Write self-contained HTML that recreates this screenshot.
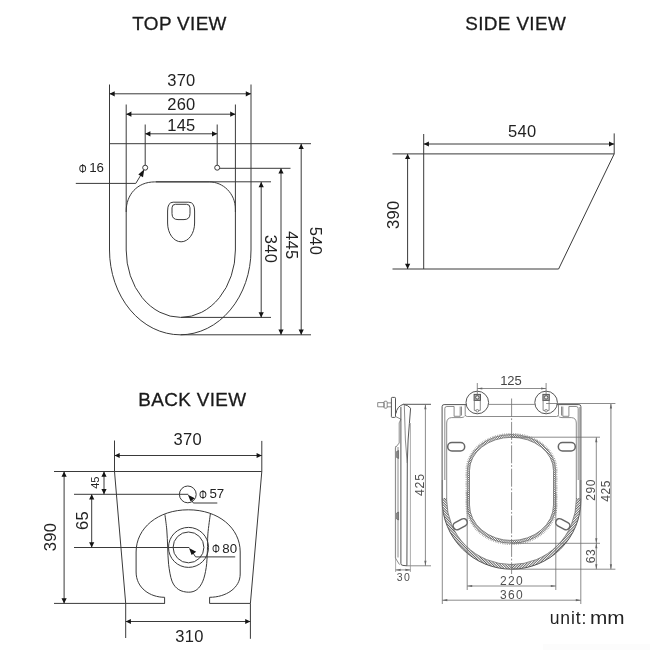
<!DOCTYPE html>
<html><head><meta charset="utf-8">
<style>
html,body{margin:0;padding:0;background:#fff;}
svg{display:block;will-change:transform;}
text{font-family:"Liberation Sans",sans-serif;fill:#222;}
.l{stroke:#3a3a3a;stroke-width:1;fill:none;}
.g{stroke:#6e6e6e;stroke-width:0.8;fill:none;}
.gd{stroke:#555;stroke-width:1;fill:none;}
.gl{stroke:#8a8a8a;stroke-width:0.7;fill:none;}
.a{fill:#151515;stroke:none;}
.ga{fill:#666;stroke:none;}
.t{font-size:18.9px;letter-spacing:0.35px;stroke:#1a1a1a;stroke-width:0.3px;fill:#1a1a1a;}
.d{font-size:16.5px;text-anchor:middle;letter-spacing:0.3px;}
.s{font-size:13.3px;}
.p{font-size:12.4px;}
.q{font-size:12px;letter-spacing:0.6px;text-anchor:middle;fill:#505050;}
</style></head><body>
<svg width="650" height="650" viewBox="0 0 650 650">
<rect width="650" height="650" fill="#fff"/>
<text class="t" x="132.3" y="30.3">TOP VIEW</text>
<text class="t" x="465.3" y="30.3">SIDE VIEW</text>
<text class="t" x="138.3" y="405.9">BACK VIEW</text>

<g id="top">
<path class="l" d="M109.5 84.5V250A70.75 84.8 0 0 0 251 250V84.5"/>
<path class="l" d="M126.2 104.5V212M235.4 104.5V212"/>
<path class="l" d="M145.2 124.5V165.2M217.2 124.5V165.2"/>
<path class="l" d="M109.5 93.8H251M126.2 114.2H235.4M145.2 133.8H217.2"/>
<path class="l" d="M109.5 143.7H311M219.7 168.3H290.5M156 181.8H271M181 317.4H271M180.5 334.8H311"/>
<circle class="l" cx="145.2" cy="167.7" r="2.5"/><circle class="l" cx="217.2" cy="167.7" r="2.5"/>
<path class="l" d="M75.8 183.4H135.8L141.5 174"/>
<path class="l" d="M126.2 250V211C126.2 195 137 181.9 154.7 181.9H209.4C223 181.9 235.4 193.5 235.4 209V250A54.6 67.4 0 0 1 126.2 250Z"/>
<path class="l" d="M173.2 202.2H188.8Q194.6 202.2 194.6 211V223C194.6 233.400 188.600 241.800 181.100 241.800C173.600 241.800 167.600 233.400 167.600 223V211Q167.600 202.200 173.200 202.200Z"/>
<path class="l" d="M175.500 204.300H186.500Q190 204.300 190 207.800V213.600Q190 219.600 184 219.600H178Q172 219.600 172 213.600V207.800Q172 204.300 175.500 204.300Z"/>
<path class="l" d="M261.2 182V317.4M281 168.3V334.8M301.2 143.7V334.8"/>
<path class="a" d="M109.5 93.8l5.2 -2.6v5.2zM251 93.8l-5.2 -2.6v5.2zM126.2 114.2l5.2 -2.6v5.2zM235.4 114.2l-5.2 -2.6v5.2zM145.2 133.8l5.2 -2.6v5.2zM217.2 133.8l-5.2 -2.6v5.2zM261.2 182l-2.6 5.2h5.2zM261.2 317.4l-2.6 -5.2h5.2zM281 168.3l-2.6 5.2h5.2zM281 334.8l-2.6 -5.2h5.2zM301.2 143.7l-2.6 5.2h5.2zM301.2 334.8l-2.6 -5.2h5.2z"/>
<path class="a" d="M144.300 169.300L143 177.200L138.300 174.500z"/>
<text class="d" x="181.4" y="86">370</text>
<text class="d" x="181.400" y="110">260</text>
<text class="d" x="181.400" y="130.6">145</text>
<text class="p" transform="translate(78.8 172.6) scale(0.8 1)">Φ</text><text class="s" x="89.2" y="172.2">16</text>
<text class="d" transform="translate(264.7 249) rotate(90)">340</text>
<text class="d" transform="translate(285.900 245.300) rotate(90)">445</text>
<text class="d" transform="translate(310.100 241) rotate(90)">540</text>
</g>
<g id="side">
<path class="l" d="M423.700 134V269M614.200 133.400V153.900L558.600 269H392.500M392.500 153.900H614.200M423.700 144H614.200M407.600 153.900V269"/>
<path class="a" d="M423.7 144l5.2 -2.6v5.2zM614.2 144l-5.2 -2.6v5.2zM407.6 153.9l-2.6 5.2h5.2zM407.6 269l-2.6 -5.2h5.2z"/>
<text class="d" x="522.2" y="137">540</text>
<text class="d" transform="translate(399 214.700) rotate(-90)">390</text>
</g>
<g id="back">
<path class="l" d="M114.500 440.500V471.500L125.700 603.400V638M261.800 440.900V471.500L250.400 603.400V638.800"/>
<path class="l" d="M54 471.500H261.800M74 494.300H188.300M74 547.500H189.300M54 603.400H164.900M209.500 603.400H250.400"/>
<path class="l" d="M114.500 455.500H261.800M125.700 621.500H250.400"/>
<path class="l" d="M64.100 471.500V603.400M104 471.500V494.300M91.700 494.300V547.500"/>
<path class="a" d="M114.5 455.5l5.2 -2.6v5.2zM261.8 455.5l-5.2 -2.6v5.2zM125.7 621.5l5.2 -2.6v5.2zM250.4 621.5l-5.2 -2.6v5.2zM64.1 471.5l-2.6 5.2h5.2zM64.1 603.4l-2.6 -5.2h5.2zM104 471.5l-2.6 5.2h5.2zM104 494.3l-2.6 -5.2h5.2zM91.7 494.3l-2.6 5.2h5.2zM91.7 547.5l-2.6 -5.2h5.2z"/>
<circle class="l" cx="187.800" cy="494.400" r="8.400"/>
<circle class="l" cx="188.500" cy="547.400" r="20"/>
<circle class="l" cx="188.500" cy="547.400" r="15.400"/>
<path class="l" d="M164.600 603.400V597.300C150 597.300 136.100 588 136.100 572V552C136.100 528 158 509.800 188.300 509.800C218.500 509.800 240.200 528 240.200 552V574C240.200 588 226 597.300 209.600 597.300V603.400"/>
<path class="l" d="M164.9 514.4C165.22 517 166.33 524.52 166.8 530C167.27 535.48 167.4 541.58 167.7 547.3C168 553.02 167.88 558.65 168.6 564.3C169.32 569.95 170.32 576.98 172 581.2C173.68 585.42 175.92 587.77 178.7 589.6C181.48 591.43 185.67 592.2 188.7 592.2C191.73 592.2 194.55 591.43 196.9 589.6C199.25 587.77 201.25 584.87 202.8 581.2C204.35 577.53 205.43 572.68 206.2 567.6C206.97 562.52 207.12 556.33 207.4 550.7C207.68 545.07 207.4 540 207.9 533.8C208.4 527.6 209.98 516.88 210.4 513.5"/>
<path class="l" d="M190 497L193.300 503H217.300M191 550L195.600 556.900H235.200"/>
<path class="a" d="M187.900 494.700l7 3.600l-4.400 3zM189 548l7.200 3.800l-4.600 3.200z"/>
<text class="d" x="187.700" y="445">370</text>
<text class="d" x="189.500" y="642">310</text>
<text class="p" transform="translate(199.1 498.8) scale(0.8 1)">Φ</text><text class="s" x="209.400" y="498.300">57</text>
<text class="p" transform="translate(212 553.3) scale(0.8 1)">Φ</text><text class="s" x="222.300" y="552.800">80</text>
<text class="d" transform="translate(55.500 537) rotate(-90)">390</text>
<text class="d" transform="translate(87.800 520.500) rotate(-90)">65</text>
<text transform="translate(98.600 482.700) rotate(-90)" style="font-size:11px;text-anchor:middle">45</text>
</g>
<g id="seat">
<path class="gd" d="M466.2 404.600H444.100Q442.100 404.600 442.100 406.600V500A69.4 69.2 0 0 0 580.900 500V406.600Q580.900 404.600 578.900 404.600H556.800"/>
<path class="g" d="M446.700 470V500A64.8 64.6 0 0 0 576.300 500V470"/>
<defs><pattern id="h" width="1.8" height="1.8" patternUnits="userSpaceOnUse" patternTransform="rotate(45)"><rect width="1.8" height="0.85" fill="#5a5a5a"/></pattern><pattern id="h2" width="1.5" height="1.5" patternUnits="userSpaceOnUse" patternTransform="rotate(45)"><rect width="1.5" height="0.7" fill="#666"/></pattern></defs>
<defs><pattern id="hr" width="1.8" height="1.8" patternUnits="userSpaceOnUse" patternTransform="rotate(-45)"><rect width="1.8" height="0.85" fill="#5a5a5a"/></pattern></defs>
<path fill="url(#h)" d="M442.1 498V500A69.4 69.2 0 0 0 511.5 569.2V564.6A64.8 64.6 0 0 1 446.7 500V498Z"/>
<path fill="url(#hr)" d="M580.9 498V500A69.4 69.2 0 0 1 511.5 569.2V564.6A64.8 64.6 0 0 0 576.3 500V498Z"/>
<path class="gl" d="M579.600 407V500"/>
<path class="g" d="M444.800 480V408.500Q444.800 406.500 446.800 406.500H454.100V416.300H460.200V406.500M461.500 406.500V415.500M465.200 404.600V414.500Q465.200 416.500 467.200 416.500H556.500Q558.500 416.500 558.500 414.500V404.600"/>
<path class="g" d="M446.700 470V423Q446.700 418 451.500 417.600H461Q464 417.600 464.600 416"/>
<path class="g" d="M578.200 480V408.500Q578.200 406.500 576.200 406.500H568.900V416.300H562.800V406.500M561.500 406.500V415.500"/>
<path class="g" d="M576.300 470V423Q576.300 418 571.500 417.600H562Q559 417.600 558.400 416"/>
<path class="g" d="M488.700 404.400H534.800"/>
<circle class="gd" cx="477.3" cy="402.500" r="11.300" fill="#fff"/>
<rect x="474.1" y="394.400" width="6.400" height="6" fill="#aaa" stroke="#555" stroke-width="1"/>
<circle cx="477.3" cy="397.400" r="1.700" fill="#eee" stroke="#444" stroke-width="0.8"/>
<path class="g" d="M474.3 400.400V410.400H476.1M480.3 400.400V410.400H478.5"/>
<circle class="g" cx="477.3" cy="410.800" r="1.300"/>
<path class="g" d="M477.3 383V394"/>
<circle class="gd" cx="546.1" cy="402.500" r="11.300" fill="#fff"/>
<rect x="542.9" y="394.400" width="6.400" height="6" fill="#aaa" stroke="#555" stroke-width="1"/>
<circle cx="546.1" cy="397.400" r="1.700" fill="#eee" stroke="#444" stroke-width="0.8"/>
<path class="g" d="M543.1 400.400V410.400H544.9M549.1 400.400V410.400H547.3"/>
<circle class="g" cx="546.1" cy="410.800" r="1.300"/>
<path class="g" d="M546.1 383V394"/>
<path class="g" d="M477.300 388.500H546.100"/>
<path class="ga" d="M477.3 388.5l5 -1.1v2.2zM546.1 388.5l-5 -1.1v2.2z"/>
<text x="511" y="385" style="font-size:13px;text-anchor:middle;fill:#444">125</text>
<path class="g" d="M511.600 398.500V574" stroke-dasharray="18 1.8 1.8 1.8"/>
<path class="g" d="M469.5 505V470.5A42 33.2 0 0 1 553.5 470.5V505A42 35.5 0 0 1 469.5 505Z"/>
<path class="g" d="M467.3 505V470.5A44.2 36 0 0 1 555.7 470.5V505A44.2 38.3 0 0 1 467.3 505Z"/>
<path fill="url(#h2)" fill-rule="evenodd" d="M467.3 505V470.5A44.2 36 0 0 1 555.7 470.5V505A44.2 38.3 0 0 1 467.3 505ZM469.5 505V470.5A42 33.2 0 0 1 553.5 470.5V505A42 35.5 0 0 1 469.5 505Z"/>
<path d="M466.2 505V470.5A45.3 36.9 0 0 1 556.8 470.5V505A45.3 39.4 0 0 1 466.2 505Z" fill="none" stroke="#888" stroke-width="1.4" stroke-dasharray="0.6 1.2"/>
<g transform="translate(456.2 446.8) rotate(0)"><rect x="-8.5" y="-4.2" width="17" height="8.4" rx="4.2" fill="#fff" stroke="#666" stroke-width="1.500"/></g>
<g transform="translate(566.8 446.8) rotate(0)"><rect x="-8.5" y="-4.2" width="17" height="8.4" rx="4.2" fill="#fff" stroke="#666" stroke-width="1.500"/></g>
<g transform="translate(460.2 524.2) rotate(-28)"><rect x="-7.5" y="-3.8" width="15" height="7.6" rx="3.8" fill="#fff" stroke="#666" stroke-width="1.500"/></g>
<g transform="translate(562.8 524.2) rotate(28)"><rect x="-7.5" y="-3.8" width="15" height="7.6" rx="3.8" fill="#fff" stroke="#666" stroke-width="1.500"/></g>
<path class="g" d="M546.100 403.500H615.400M511.600 437.200H600M511.600 543.300H600M511.600 569.200H615.400"/>
<path class="g" d="M596.300 437.200V569.200"/><path d="M610.900 403.500V569.200" stroke="#999" stroke-width="1.300" fill="none"/>
<path class="ga" d="M596.3 437.2l-1.1 5h2.2zM596.3 543.3l-1.1 -5h2.2zM596.3 543.3l-1.1 5h2.2zM596.3 569.2l-1.1 -5h2.2zM610.9 403.5l-1.1 5h2.2zM610.9 569.2l-1.1 -5h2.2z"/>
<text class="q" transform="translate(594.800 489.800) rotate(-90)">290</text>
<text class="q" transform="translate(610 490.800) rotate(-90)">425</text>
<text class="q" transform="translate(594.800 556) rotate(-90)">63</text>
<path class="g" d="M467.200 492V590M555.800 492V590M442.300 480V604M580.800 480V604"/>
<path class="g" d="M467.200 586H555.800M442.300 600.200H580.800"/>
<path class="ga" d="M467.2 586l5 -1.1v2.2zM555.8 586l-5 -1.1v2.2zM442.3 600.2l5 -1.1v2.2zM580.8 600.2l-5 -1.1v2.2z"/>
<text class="q" x="512" y="584.800" style="letter-spacing:1.3px">220</text>
<text class="q" x="512" y="598.600" style="letter-spacing:1.3px">360</text>
<path class="g" d="M377.700 402.600H384V406.800H377.700ZM387.200 402.900H391.400M387.200 406.800H391.400"/>
<rect class="g" x="384" y="401.200" width="3.200" height="7" rx="1"/>
<rect class="gd" x="391.400" y="397.400" width="4.100" height="20" rx="0.8"/>
<path class="gd" d="M396 413.500C396.500 409 399 405.500 403.400 404.300H431"/>
<path class="g" d="M395.500 416.500L400.900 419.200L399.200 422.900V443L395.400 447.700V558L399.500 564.600"/>
<path class="g" d="M398 447V557.500"/>
<path class="gd" d="M403.400 404.300L407.500 405.700L410.600 408.200L409.400 423.400L408.100 440L407.300 463L406.900 565.800"/>
<path class="gd" d="M400.900 406.800V563.500Q400.900 565.300 402.900 565.400L406.900 565.800"/><path class="g" d="M406.900 565.800H431"/>
<path class="g" d="M404.300 404.900L405.400 440L407.200 463"/>
<path class="gl" d="M410.400 423V572M395.600 446V572"/>
<path d="M396.600 451.500L398.600 450.500V458.500L396.600 457.500ZM396.600 513L398.600 512V520L396.600 519Z" fill="#888" stroke="#555" stroke-width="0.6"/>
<path class="g" d="M425.400 404.300V565.800M395.600 569.900H410.400"/>
<path class="ga" d="M425.4 404.3l-1.1 5h2.2zM425.4 565.8l-1.1 -5h2.2zM395.6 569.9l5 -1.1v2.2zM410.4 569.9l-5 -1.1v2.2z"/>
<text class="q" transform="translate(424 484.600) rotate(-90)" style="font-size:12.3px;letter-spacing:0.8px">425</text>
<text class="q" x="404" y="581.400" style="font-size:10.500px;letter-spacing:1.500px">30</text>
</g>
<rect x="543" y="644" width="107" height="6" fill="#fcfcfc"/>
<text x="549.700" y="624.200" style="font-size:17.500px;letter-spacing:0.9px">unit:<tspan style="letter-spacing:-2.2px"> </tspan><tspan textLength="34.6" lengthAdjust="spacingAndGlyphs" style="letter-spacing:0">mm</tspan></text>
</svg>
</body></html>
